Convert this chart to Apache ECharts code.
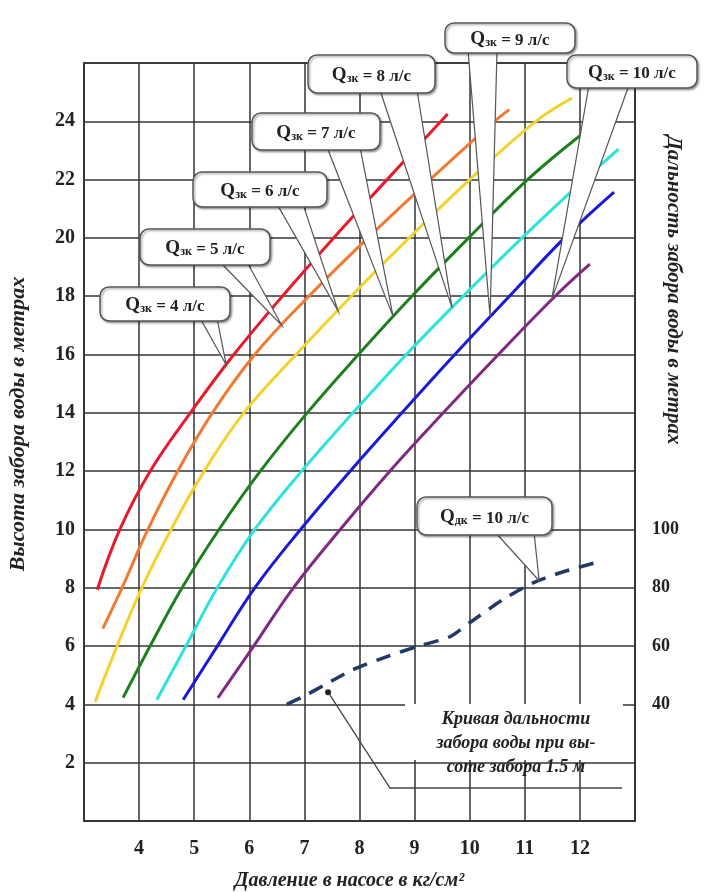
<!DOCTYPE html>
<html><head><meta charset="utf-8">
<script src="https://cdn.jsdelivr.net/npm/echarts@6/dist/echarts.min.js"></script>
<style>html,body{margin:0;padding:0;background:#fff}#c{width:704px;height:892px}</style>
</head><body><div id="c"></div>
<script>
// ---- data ----
const flowRates = [4, 5, 6, 7, 8, 9, 10];
const curveQ4  = [[3.24,7.93],[3.65,10],[4.2,12],[4.93,14],[5.72,16],[6.6,18],[7.53,20],[8.5,22],[9.6,24.25]];
const curveQ5  = [[3.34,6.6],[3.69,8],[4.16,10],[4.7,12],[5.33,14],[6.1,16],[7.08,18],[8.15,20],[9.28,22],[10.45,24],[10.72,24.4]];
const curveQ6  = [[3.2,4.08],[3.6,6],[4.05,8],[4.58,10],[5.18,12],[5.9,14],[6.85,16],[7.85,18],[8.9,20],[10.0,22],[11.2,24],[11.86,24.8]];
const curveQ7  = [[3.71,4.23],[4.2,6],[4.78,8],[5.45,10],[6.2,12],[7.05,14],[7.98,16],[8.95,18],[9.98,20],[11.05,22],[12.1,23.65]];
const curveQ8  = [[4.32,4.16],[4.85,6],[5.42,8],[6.1,10],[6.95,12],[7.88,14],[8.85,16],[9.88,18],[10.95,20],[12.08,22],[12.7,23.05]];
const curveQ9  = [[4.8,4.16],[5.42,6],[6.1,8],[6.93,10],[7.83,12],[8.77,14],[9.73,16],[10.72,18],[11.72,20],[12.62,21.57]];
const curveQ10 = [[5.43,4.22],[6.08,6],[6.8,8],[7.65,10],[8.55,12],[9.52,14],[10.52,16],[11.55,18],[12.18,19.1]];
const rangeCurve = [[6.68,40],[6.97,42.6],[7.37,46.7],[7.88,51.9],[8.5,56.4],[9.04,59.8],[9.64,63.2],[10.0,68],[10.6,75.9],[11.15,81.7],[11.7,85.5],[12.42,89.3]];
const xTickLabels = [4, 5, 6, 7, 8, 9, 10, 11, 12];
const yLeftTickLabels = [2, 4, 6, 8, 10, 12, 14, 16, 18, 20, 22, 24];
const yRightTickLabels = [40, 60, 80, 100];
const calloutTips = [[5.58,15.65],[6.59,17.0],[7.61,17.5],[8.61,17.3],[9.68,17.6],[10.37,17.3],[11.49,17.9]];
const rangeCalloutTip = [11.26, 82.4];
const rangeLeaderTip = [7.43, 44.2];

const curves = [curveQ4, curveQ5, curveQ6, curveQ7, curveQ8, curveQ9, curveQ10];
const colors = ['#E8192C','#F07A32','#F3D22E','#1E7F1E','#2EE2DE','#1A1AD6','#7F2A80'];

const serif = '"Liberation Serif","DejaVu Serif",serif';
const chart = echarts.init(document.getElementById('c'));

const series = curves.map((d, i) => ({
  type: 'line', name: 'Q' + flowRates[i], data: d, smooth: 0.4, symbol: 'none',
  lineStyle: { color: colors[i], width: 3 }, z: 3
}));
series.push({
  type: 'line', name: 'range', yAxisIndex: 1, data: rangeCurve, smooth: 0.25, symbol: 'none',
  lineStyle: { color: '#1F3A66', width: 3.5, type: [15, 10] }, z: 3
});

const gridLine = { show: true, lineStyle: { color: '#333', width: 1.5 } };
const option = {
  animation: false,
  backgroundColor: '#fff',
  grid: { left: 84, right: 69, top: 63, bottom: 71, show: true, borderColor: '#333', borderWidth: 1.5, outerBoundsMode: 'none', containLabel: false },
  xAxis: {
    type: 'value', min: 3, max: 13, interval: 1,
    axisLine: { show: true, lineStyle: { color: '#333', width: 1.5 } },
    axisTick: { show: false }, splitLine: gridLine,
    axisLabel: { formatter: v => xTickLabels.includes(v) ? String(v) : '', fontFamily: serif, fontWeight: 'bold', fontSize: 20, color: '#222', margin: 18 },
    name: 'Давление в насосе в кг/см²', nameLocation: 'middle', nameGap: 50,
    nameTextStyle: { fontFamily: serif, fontStyle: 'italic', fontWeight: 'bold', fontSize: 20, color: '#222', padding: [0, 20, 0, 0] }
  },
  yAxis: [{
    type: 'value', min: 0, max: 26, interval: 2,
    axisLine: { show: true, lineStyle: { color: '#333', width: 1.5 } },
    axisTick: { show: false }, splitLine: gridLine,
    axisLabel: { formatter: v => yLeftTickLabels.includes(v) ? String(v) : '', fontFamily: serif, fontWeight: 'bold', fontSize: 20, color: '#222', margin: 9 }
  }, {
    type: 'value', min: 0, max: 260, interval: 20, position: 'right',
    axisLine: { show: true, lineStyle: { color: '#333', width: 1.5 } },
    axisTick: { show: false }, splitLine: { show: false },
    axisLabel: { formatter: v => yRightTickLabels.includes(v) ? String(v) : '', fontFamily: serif, fontWeight: 'bold', fontSize: 18, color: '#222', margin: 17 }
  }],
  series
};
chart.setOption(option);

// ---- annotations ----
const P = (pt, yi) => chart.convertToPixel({ xAxisIndex: 0, yAxisIndex: yi || 0 }, pt);
const boxes = [
  { box: [100, 287, 130, 34], base: [200, 217] },
  { box: [140, 229, 130, 36], base: [220, 247] },
  { box: [193, 172, 134, 35], base: [277, 303] },
  { box: [252, 113, 128, 37], base: [327, 360] },
  { box: [308, 55, 127, 38],  base: [380, 417] },
  { box: [445, 23, 130, 30],  base: [468, 497] },
  { box: [567, 55, 130, 33],  base: [589, 629] }
];
const g = [];
function callout(b, tipPx, text, sub) {
  const [x, y, w, h] = b.box;
  g.push({ type: 'polygon', z: 100, shape: { points: [[b.base[0], y + h - 3], [b.base[1], y + h - 3], tipPx] },
    style: { fill: '#fff', stroke: '#555', lineWidth: 1.2 } });
  g.push({ type: 'rect', z: 101, shape: { x, y, width: w, height: h, r: 9 },
    style: { fill: '#fff', stroke: '#555', lineWidth: 1.5, shadowBlur: 2, shadowOffsetX: 1.5, shadowOffsetY: 1.5, shadowColor: 'rgba(0,0,0,0.35)' } });
  g.push({ type: 'text', z: 102, x: x + w / 2, y: y + h / 2,
    style: { text: '{q|Q}{s|' + sub + '}{t| = ' + text + ' л/с}', align: 'center', verticalAlign: 'middle',
      rich: {
        q: { fontFamily: serif, fontWeight: 'bold', fontSize: 19, fill: '#222', lineHeight: 22, verticalAlign: 'bottom' },
        s: { fontFamily: serif, fontWeight: 'bold', fontSize: 12, fill: '#222', lineHeight: 22, verticalAlign: 'bottom' },
        t: { fontFamily: serif, fontWeight: 'bold', fontSize: 17, fill: '#222', lineHeight: 22, verticalAlign: 'bottom' }
      } } });
}
for (let i = boxes.length - 1; i >= 0; i--) callout(boxes[i], P(calloutTips[i]), String(flowRates[i]), 'зк');
callout({ box: [417, 497, 135, 38], base: [495, 534] }, P(rangeCalloutTip, 1), '10', 'дк');

// range curve note
const lt = P(rangeLeaderTip, 1);
g.push({ type: 'rect', z: 90, shape: { x: 405, y: 704, width: 218, height: 56 }, style: { fill: '#fff' } });
g.push({ type: 'polyline', z: 91, shape: { points: [lt, [390, 788], [622, 788]] }, style: { stroke: '#444', lineWidth: 1.3, fill: null } });
g.push({ type: 'circle', z: 91, shape: { cx: lt[0], cy: lt[1], r: 3 }, style: { fill: '#222' } });
['Кривая дальности', 'забора воды при вы-', 'соте забора 1.5 м'].forEach((s, i) => {
  g.push({ type: 'text', z: 92, x: 516, y: 719 + i * 24,
    style: { text: s, align: 'center', verticalAlign: 'middle', fontFamily: serif, fontStyle: 'italic', fontWeight: 'bold', fontSize: 18, fill: '#222' } });
});
// axis names
g.push({ type: 'text', z: 50, x: 18, y: 424, rotation: Math.PI / 2,
  style: { text: 'Высота забора воды в метрах', align: 'center', verticalAlign: 'middle', fontFamily: serif, fontStyle: 'italic', fontWeight: 'bold', fontSize: 22, fill: '#222' } });
g.push({ type: 'text', z: 50, x: 673, y: 290, rotation: -Math.PI / 2,
  style: { text: 'Дальность забора воды в метрах', align: 'center', verticalAlign: 'middle', fontFamily: serif, fontStyle: 'italic', fontWeight: 'bold', fontSize: 21, fill: '#222' } });

chart.setOption({ graphic: g });
</script>
</body></html>
